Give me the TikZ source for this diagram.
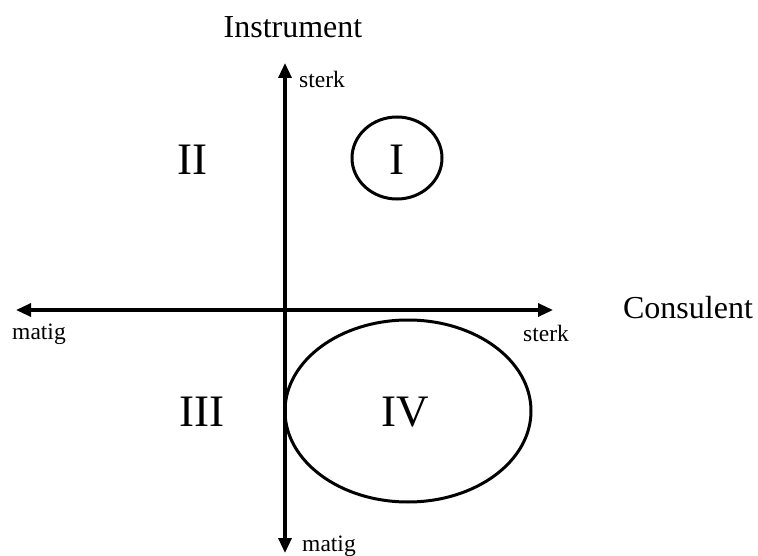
\documentclass[tikz,border=0pt]{standalone}
\usepackage{fontspec}
\setmainfont{Liberation Serif}
\usetikzlibrary{arrows.meta, shapes.geometric}
\tikzset{
  axis/.style={line width=3.2pt, {Triangle[length=15pt,width=13pt]}-{Triangle[length=15pt,width=13pt]}},
  axlabel/.style={font=\fontsize{23.5}{26}\selectfont, inner sep=0pt},
  axname/.style={font=\fontsize{32}{36}\selectfont, inner sep=0pt},
  quadrant/.style={font=\fontsize{45}{50}\selectfont, inner sep=0pt},
  zone/.style={draw, ellipse, line width=3pt, inner sep=0pt}
}

\begin{document}
\begin{tikzpicture}[x=1pt, y=-1pt]
        \useasboundingbox (0,0) rectangle (758,556);
        \coordinate (ytop) at (285,63);
        \coordinate (ybot) at (285,553);
        \coordinate (xleft) at (16,310);
        \coordinate (xright) at (553,310);
        \draw[axis] (ybot) -- (ytop);
        \draw[axis] (xleft) -- (xright);
        \node[axname] (instr) at (293,27) {Instrument};
        \node[axname] (cons) at (688,308) {Consulent};
        \node[axlabel] (ysterk) at (322,79) {sterk};
        \node[axlabel] (ymatig) at (329,546) {matig};
        \node[axlabel] (xmatig) at (39,334) {matig};
        \node[axlabel] (xsterk) at (546,333) {sterk};
        \node[zone, minimum width=90pt, minimum height=82pt] (zoneI) at (397,158) {};
        \node[zone, minimum width=246pt, minimum height=182pt] (zoneIV) at (408,411) {};
        \node[quadrant] (qI) at (397,160) {I};
        \node[quadrant] (qII) at (192,160) {II};
        \node[quadrant] (qIII) at (202,412) {III};
        \node[quadrant] (qIV) at (405,412) {IV};
      \end{tikzpicture}
\end{document}
